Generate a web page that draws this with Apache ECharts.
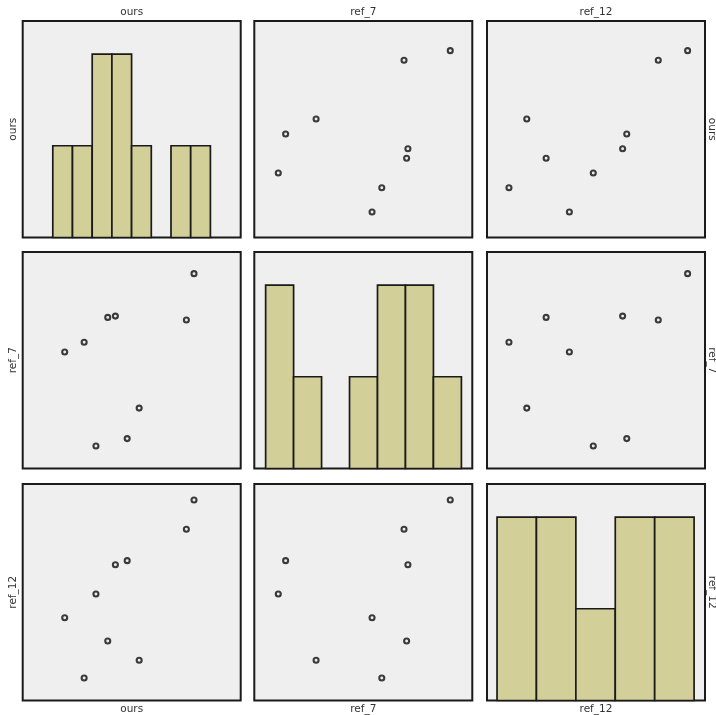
<!DOCTYPE html>
<html>
<head>
<meta charset="utf-8">
<title>Scatter matrix</title>
<script src="https://cdn.jsdelivr.net/npm/echarts@6/dist/echarts.min.js"></script>
<style>
  html, body { margin: 0; padding: 0; background: #ffffff; }
  #chart { width: 716px; height: 715px; }
</style>
</head>
<body>
<div id="chart"></div>
<script>
// Variables shown in the matrix (row/column order)
const variables = ['ours', 'ref_7', 'ref_12'];

// One value per observation (9 observations), same order in every array
const ours  = [86.3, 81.9, 54.7, 47.8, 41.0, 36.6, 29.8, 23.0, 11.8];
const ref7  = [90.0, 68.6, 27.9, 13.8, 70.4, 69.8, 10.4, 58.3, 53.8];
const ref12 = [92.6, 79.1, 18.6, 64.6, 62.7, 27.5, 49.2, 10.4, 38.2];

// Histogram bin counts on the diagonal
const oursCounts  = [1, 1, 2, 2, 1, 0, 1, 1];
const ref7Counts  = [2, 1, 0, 1, 2, 2, 1];
const ref12Counts = [2, 2, 1, 2, 2];

// Histogram bin range (first to last edge) for each variable
const oursBinRange  = [13.8, 86.1];
const ref7BinRange  = [5.2, 95.0];
const ref12BinRange = [4.6, 95.0];

const values = [ours, ref7, ref12];
const counts = [oursCounts, ref7Counts, ref12Counts];
const binRanges = [oursBinRange, ref7BinRange, ref12BinRange];

// ---- layout and styling ----
const colLeft = [22.7, 254.3, 487];
const colWidth = 218;
const rowTop = [21, 252, 484];
const rowHeight = 216.5;

// value-axis extents of the scatter panels, per column (x) and per row (y)
const scatterX = [[-12.4, 113.2], [-0.7, 100.2], [0.3, 100.6]];
const scatterY = [[0, 100], [0, 100], [0, 100]];
const histX = [0, 100];
const histYMax = 2.36;

const panelBg = '#efefef';
const ink = '#1a1a1a';
const markerInk = '#0d0d0d';
const barFill = '#d3cf99';
const labelFont = '10.5px "DejaVu Sans", Verdana, sans-serif';
const labelColor = '#333333';

const grids = [], xAxes = [], yAxes = [], series = [];
let idx = 0;
for (let i = 0; i < 3; i++) {
  for (let j = 0; j < 3; j++) {
    grids.push({
      left: colLeft[j], top: rowTop[i], width: colWidth, height: rowHeight,
      show: true, backgroundColor: panelBg, borderColor: ink, borderWidth: 2,
      containLabel: false
    });
    const diag = i === j;
    const xr = diag ? histX : scatterX[j];
    const yr = diag ? [0, histYMax] : scatterY[i];
    xAxes.push({ type: 'value', gridIndex: idx, min: xr[0], max: xr[1], show: false });
    yAxes.push({ type: 'value', gridIndex: idx, min: yr[0], max: yr[1], show: false });

    if (diag) {
      const c = counts[i];
      const [lo, hi] = binRanges[i];
      const w = (hi - lo) / c.length;
      const bins = c.map((n, b) => [lo + b * w, lo + (b + 1) * w, n]);
      series.push({
        type: 'custom',
        xAxisIndex: idx, yAxisIndex: idx,
        data: bins,
        encode: { x: [0, 1], y: 2 },
        renderItem: function (params, api) {
          const n = api.value(2);
          if (!n) return null;
          const p0 = api.coord([api.value(0), n]);
          const p1 = api.coord([api.value(1), 0]);
          return {
            type: 'rect',
            shape: { x: p0[0], y: p0[1], width: p1[0] - p0[0], height: p1[1] - p0[1] },
            style: { fill: barFill, stroke: ink, lineWidth: 1.7 }
          };
        },
        silent: true
      });
    } else {
      const xs = values[j], ys = values[i];
      series.push({
        type: 'scatter',
        xAxisIndex: idx, yAxisIndex: idx,
        data: xs.map((v, k) => [v, ys[k]]),
        symbol: 'circle',
        symbolSize: 5,
        itemStyle: { color: 'rgba(0,0,0,0)', borderColor: markerInk, borderWidth: 2.1 },
        silent: true
      });
    }
    idx++;
  }
}

// variable names around the matrix
const graphic = [];
function label(text, x, y, rotation) {
  graphic.push({
    type: 'text', x: x, y: y, rotation: rotation || 0, silent: true,
    style: {
      text: text, font: labelFont, fill: labelColor,
      textAlign: 'center', textVerticalAlign: 'middle',
      align: 'center', verticalAlign: 'middle'
    }
  });
}
for (let k = 0; k < 3; k++) {
  const cx = colLeft[k] + colWidth / 2;
  const cy = rowTop[k] + rowHeight / 2;
  label(variables[k], cx, 12.5);
  label(variables[k], cx, 709);
  label(variables[k], 13.5, cy, Math.PI / 2);
  label(variables[k], 712, cy, -Math.PI / 2);
}

const chart = echarts.init(document.getElementById('chart'), null, { renderer: 'canvas' });
chart.setOption({
  animation: false,
  backgroundColor: '#ffffff',
  grid: grids,
  xAxis: xAxes,
  yAxis: yAxes,
  series: series,
  graphic: graphic
});
</script>
</body>
</html>
